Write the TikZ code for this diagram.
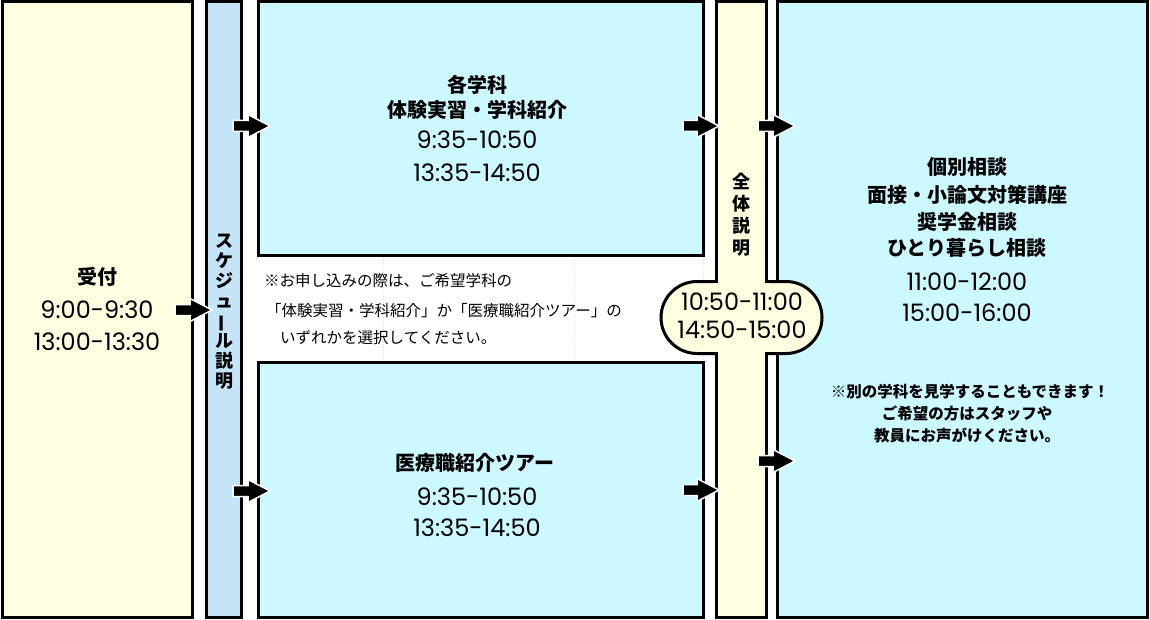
\documentclass[tikz,border=0pt]{standalone}
\usepackage{fontspec}
\newfontfamily\jp{Noto Sans CJK JP}
\newfontfamily\num{Poppins}
\usetikzlibrary{calc}
\definecolor{cream}{RGB}{255,253,224}
\definecolor{skyb}{RGB}{196,228,248}
\definecolor{cyanl}{RGB}{204,248,255}
\newcommand\myarrow[2]{\draw[blk] ($(#1)+(0,-5.5)$) -- ($(#2)+(-22,-5.5)$) -- ($(#2)+(-22,-11.5)$) -- (#2) -- ($(#2)+(-22,11.5)$) -- ($(#2)+(-22,5.5)$) -- ($(#1)+(0,5.5)$) -- cycle;}
\begin{document}
\begin{tikzpicture}[x=1pt,y=-1pt,
  box/.style={draw=black, line width=3pt, inner sep=0pt, outer sep=0pt},
  blk/.style={fill=black, draw=white, line width=1.5pt, line join=miter},
  hd/.style={font=\jp\bfseries\fontsize{20}{24}\selectfont, inner sep=0pt},
  vt/.style={font=\jp\bfseries\fontsize{18}{20}\selectfont, inner sep=0pt, align=center},
  tm/.style={font=\num\fontsize{24}{26}\selectfont, inner sep=0pt},
  nt/.style={font=\jp\fontsize{15.5}{18}\selectfont, inner sep=0pt, anchor=west},
  ntb/.style={font=\jp\bfseries\fontsize{15.5}{18}\selectfont, inner sep=0pt},
  grid/.style={draw=black!15, dotted, line width=1pt}]
\useasboundingbox (0,0) rectangle (1150,620);
\fill[white] (0,0) rectangle (1150,620);
% boxes
\node[box, fill=cream, minimum width=190pt, minimum height=615pt] (uke) at (97,309.5) {};
\node[box, fill=skyb, minimum width=35pt, minimum height=615pt] (sched) at (224,309.5) {};
\node[box, fill=cyanl, minimum width=445pt, minimum height=253pt] (top) at (481,128.5) {};
\node[box, fill=cyanl, minimum width=445pt, minimum height=254.5pt] (bot) at (481,489.75) {};
\node[box, fill=cream, minimum width=50pt, minimum height=615pt] (zen) at (741.5,309.5) {};
\node[box, fill=cyanl, minimum width=370pt, minimum height=615pt] (right) at (962,309.5) {};
% faint grid lines in the gap
\draw[grid] (383,257) -- (383,361);
\draw[grid] (574,257) -- (574,361);
\draw[grid] (703.5,257) -- (703.5,361);
% bubble
\node[box, fill=cream, rounded corners=36pt, minimum width=161pt, minimum height=72pt] (bub) at (741.5,317.5) {};
\fill[cream] (718,277) rectangle (765,358);
\fill[cream] (713,283.3) rectangle (770,351.7);
% texts
\node[hd] (t1) at (97,277) {受付};
\node[tm] (t2) at (97,310) {9:00-9:30};
\node[tm] (t3) at (97,342) {13:00-13:30};
\node[vt] (t4) at (224,312) {ス\\ケ\\ジ\\ュ\\\rotatebox[origin=c]{90}{ー}\\ル\\説\\明};
\node[hd] (t5) at (477,85) {各学科};
\node[hd] (t6) at (477,110) {体験実習・学科紹介};
\node[tm] (t7) at (477,140) {9:35-10:50};
\node[tm] (t8) at (477,173) {13:35-14:50};
\node[nt] (n1) at (264,281) {※お申し込みの際は、ご希望学科の};
\node[nt] (n2) at (266,311) {「体験実習・学科紹介」か「医療職紹介ツアー」の};
\node[nt] (n3) at (280,338) {いずれかを選択してください。};
\node[hd] (t9) at (475,463) {医療職紹介ツアー};
\node[tm] (t10) at (477,497) {9:35-10:50};
\node[tm] (t11) at (477,528) {13:35-14:50};
\node[vt, font=\jp\bfseries\fontsize{18}{22}\selectfont] (t12) at (741.5,215) {全\\体\\説\\明};
\node[tm] (t13) at (742,302) {10:50-11:00};
\node[tm] (t14) at (742,330) {14:50-15:00};
\node[hd] (r1) at (967,167) {個別相談};
\node[hd] (r2) at (967,195) {面接・小論文対策講座};
\node[hd] (r3) at (967,222) {奨学金相談};
\node[hd] (r4) at (967,248) {ひとり暮らし相談};
\node[tm] (r5) at (967,282) {11:00-12:00};
\node[tm] (r6) at (967,313) {15:00-16:00};
\node[ntb] (r7) at (970,392) {※別の学科を見学することもできます！};
\node[ntb] (r8) at (967,413) {ご希望の方はスタッフや};
\node[ntb] (r9) at (967,435) {教員にお声がけください。};
% arrows
\coordinate (a1s) at (175,310); \coordinate (a1t) at (212,310);
\coordinate (a2s) at (233,126); \coordinate (a2t) at (270,126);
\coordinate (a3s) at (233,491); \coordinate (a3t) at (270,491);
\coordinate (a4s) at (683,126); \coordinate (a4t) at (719,126);
\coordinate (a5s) at (683,490); \coordinate (a5t) at (719,490);
\coordinate (a6s) at (758,126); \coordinate (a6t) at (795,126);
\coordinate (a7s) at (758,461); \coordinate (a7t) at (795,461);
\myarrow{a1s}{a1t}
\myarrow{a2s}{a2t}
\myarrow{a3s}{a3t}
\myarrow{a4s}{a4t}
\myarrow{a5s}{a5t}
\myarrow{a6s}{a6t}
\myarrow{a7s}{a7t}
\end{tikzpicture}
\end{document}
